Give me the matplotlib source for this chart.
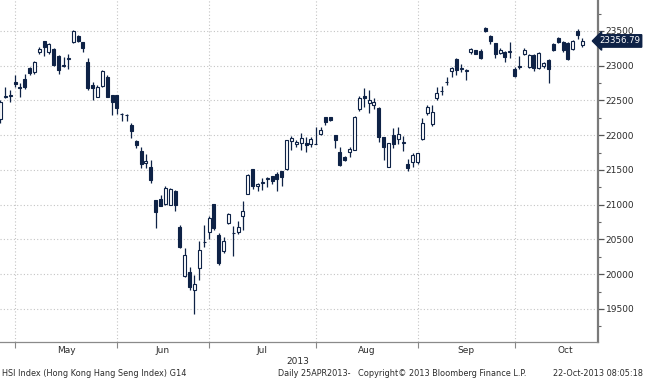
import matplotlib
matplotlib.use('Agg')
import matplotlib.pyplot as plt
import matplotlib.transforms as mtransforms
import numpy as np
import pandas as pd

# ---------------- data (HSI daily OHLC) ----------------
opens = [22230, 22550, 22565,
         22759, 22698, 22816, 22967, 22910, 23203, 23358, 23193, 23240, 23146, 23000, 23095,
         23344, 23430, 23335, 23061, 22721, 22556, 22707, 22840, 22580,
         22580, 22300, 22290, 22154, 21914, 21779, 21597, 21544, 21064, 21083, 21011, 21000,
         21194, 20675, 19970, 20032, 19778, 20090, 20459,
         20608, 21011, 20570, 20330, 20738, 20590, 20603, 20834, 21160, 21515, 21272, 21320,
         21370, 21418, 21442, 21490, 21515, 21912, 21869, 21888, 21888, 21869,
         21873, 22024, 22257, 22267, 22000, 21757, 21694, 21757, 21791, 22371, 22562, 22467,
         22433, 22385, 21969, 21548, 22002, 21940, 21888, 21586, 21620,
         21620, 21940, 22313, 22160, 22529, 22634, 22764, 22921, 23093, 22959, 22925, 23199,
         23232, 23210, 23548, 23429, 23329, 23190, 23200, 23195,
         22953, 22983, 23176, 22986, 23152, 22962, 23000, 23081, 23319, 23400, 23343, 23333,
         23248, 23495, 23305]
highs = [22500, 22698, 22650,
         22863, 22745, 22885, 22980, 23062, 23264, 23358, 23330, 23250, 23150, 23122, 23170,
         23510, 23440, 23335, 23113, 22770, 22730, 22943, 22873, 22580,
         22580, 22320, 22310, 22178, 21938, 21827, 21731, 21650, 21070, 21146, 21275, 21240,
         21218, 20704, 20378, 20104, 19994, 20474, 20714,
         20834, 21011, 20594, 20531, 20880, 20690, 20762, 21050, 21442, 21515, 21320, 21384,
         21393, 21418, 21466, 21490, 21927, 21985, 21937, 22034, 21975, 21975,
         22121, 22112, 22267, 22267, 22000, 21830, 21708, 21830, 22277, 22562, 22682, 22658,
         22529, 22400, 21969, 21892, 22098, 22112, 21988, 21653, 21739,
         21749, 22242, 22433, 22433, 22696, 22706, 22840, 22983, 23112, 23031, 22959, 23251,
         23232, 23248, 23557, 23438, 23329, 23257, 23210, 23343,
         22986, 23138, 23257, 23176, 23162, 23200, 23057, 23090, 23333, 23414, 23352, 23343,
         23367, 23524, 23400]
lows = [22180, 22542, 22485,
        22698, 22556, 22670, 22870, 22886, 23170, 23146, 23170, 22990, 22887, 22980, 22955,
        23330, 23344, 23193, 22650, 22500, 22556, 22698, 22556, 22296,
        22310, 22200, 22200, 21962, 21818, 21530, 21530, 21314, 20666, 20978, 21000, 20990,
        20906, 20378, 19955, 19778, 19427, 19922, 20387,
        20512, 20642, 20138, 20306, 20723, 20258, 20579, 20642, 21150, 21224, 21200, 21209,
        21250, 21296, 21200, 21272, 21500, 21782, 21830, 21782, 21757, 21830,
        21869, 22000, 22145, 22200, 21820, 21563, 21630, 21685, 21782, 22352, 22400, 22313,
        22371, 21907, 21643, 21538, 21811, 21873, 21777, 21490, 21548,
        21586, 21930, 22290, 22132, 22505, 22577, 22720, 22840, 22864, 22911, 22792, 23175,
        23165, 23095, 23486, 23319, 23105, 23162, 23057, 23105,
        22843, 22950, 23152, 22962, 22924, 22948, 22972, 22748, 23210, 23333, 23200, 23081,
        23224, 23381, 23271]
closes = [22480, 22560, 22575,
          22731, 22684, 22688, 22900, 23052, 23240, 23264, 23311, 23004, 22934, 23010, 23105,
          23500, 23358, 23250, 22674, 22674, 22698, 22924, 22556, 22485,
          22390, 22310, 22298, 22067, 21856, 21587, 21626, 21362, 20896, 20978, 21242, 21227,
          20992, 20387, 20272, 19811, 19859, 20354, 20464,
          20810, 20666, 20162, 20474, 20867, 20600, 20680, 20915, 21432, 21272, 21296, 21330,
          21375, 21345, 21370, 21403, 21927, 21961, 21903, 21961, 21854, 21950,
          21878, 22082, 22194, 22218, 21927, 21578, 21646, 21805, 22267, 22543, 22533, 22514,
          22481, 21969, 21825, 21892, 21873, 22012, 21893, 21524, 21715,
          21739, 22180, 22400, 22337, 22610, 22639, 22768, 22969, 22935, 22964, 22930, 23237,
          23175, 23105, 23495, 23357, 23176, 23224, 23129, 23205,
          22857, 22990, 23233, 23152, 22972, 23186, 23033, 22953, 23224, 23343, 23233, 23095,
          23352, 23438, 23356.79]

holidays = ['2013-05-01', '2013-05-17', '2013-06-12', '2013-07-01',
            '2013-08-14', '2013-09-20', '2013-10-01']
dates = pd.bdate_range('2013-04-26', '2013-10-22')
dates = dates[~dates.isin(pd.to_datetime(holidays))]

month_labels = ['May', 'Jun', 'Jul', 'Aug', 'Sep', 'Oct']
y_ticks = [19500, 20000, 20500, 21000, 21500, 22000, 22500, 23000, 23500]

# ---------------- figure ----------------
NAVY = '#0e2246'
GRID = '#c4c4c4'
TXT = '#2b2b2b'

fig = plt.figure(figsize=(6.45, 3.80), dpi=100)
fig.patch.set_facecolor('white')
ax = fig.add_axes([0.0, 1 - 342 / 380, 598 / 645, 342 / 380])
ax.set_facecolor('white')

o = np.array(opens, float)
h = np.array(highs, float)
l = np.array(lows, float)
c = np.array(closes, float)
idx = np.arange(len(c))
up = c >= o

# wicks
ax.vlines(idx, l, h, color=NAVY, lw=0.9, zorder=2)
# bodies
bottom = np.minimum(o, c)
height = np.maximum(np.abs(c - o), 8)
ax.bar(idx[up], height[up], bottom=bottom[up], width=0.62,
       color='white', edgecolor=NAVY, linewidth=0.8, zorder=3)
ax.bar(idx[~up], height[~up], bottom=bottom[~up], width=0.62,
       color=NAVY, edgecolor=NAVY, linewidth=0.8, zorder=3)

# axes ranges
ax.set_xlim(-0.1, 123.2)
ax.set_ylim(19025, 23946)

# month starts from dates
months = np.array([d.month for d in dates])
starts = [i for i in range(1, len(months)) if months[i] != months[i - 1]]
mids = [(starts[i] + starts[i + 1]) / 2 for i in range(len(starts) - 1)]
mids.append(starts[-1] + 10.5)

ax.set_xticks(starts)
ax.set_xticklabels([])
ax.set_xticks(mids, minor=True)
ax.set_xticklabels(month_labels, minor=True)
ax.tick_params(axis='x', which='major', length=4, width=0.8, color='#888888', direction='out')
ax.tick_params(axis='x', which='minor', length=0, pad=3, labelsize=6.5, labelcolor=TXT)

ax.yaxis.tick_right()
ax.set_yticks(y_ticks)
ax.set_yticklabels([str(v) for v in y_ticks])
ax.set_yticks(np.arange(19250, 23800, 250), minor=True)
ax.tick_params(axis='y', which='major', length=4, width=0.9, color='#555555',
               direction='out', pad=1.5, labelsize=6.5, labelcolor=TXT)
ax.tick_params(axis='y', which='minor', length=2, width=0.8, color='#666666', direction='out')

# grid
for v in y_ticks:
    ax.axhline(v, color=GRID, lw=0.8, ls=(0, (1, 2)), zorder=0)
for s in starts:
    ax.axvline(s, color=GRID, lw=0.8, ls=(0, (1, 2)), zorder=0)

for side in ['top', 'left']:
    ax.spines[side].set_visible(False)
ax.spines['right'].set_color('#7a7a7a')
ax.spines['right'].set_linewidth(1.6)
ax.spines['bottom'].set_color('#8a8a8a')
ax.spines['bottom'].set_linewidth(0.9)

# last price label
trans = mtransforms.blended_transform_factory(ax.transAxes, ax.transData)
ax.text(1.0 + 1 / 598, c[-1], f'{c[-1]:.2f}', transform=trans, ha='left', va='center',
        color='white', fontsize=6.2, clip_on=False, zorder=10,
        bbox=dict(boxstyle='larrow,pad=0.2', fc=NAVY, ec=NAVY))

# footer texts
fig.text(298 / 645, 1 - 362 / 380, '2013', ha='center', va='center', fontsize=6.5, color=TXT)
fy = 1 - 374 / 380
FS = 5.9
fig.text(2 / 645, fy, 'HSI Index (Hong Kong Hang Seng Index) G14', ha='left', va='center',
         fontsize=FS, color=TXT)
fig.text(278 / 645, fy, 'Daily 25APR2013-', ha='left', va='center', fontsize=FS, color=TXT)
fig.text(358 / 645, fy, 'Copyright\u00a9 2013 Bloomberg Finance L.P.', ha='left', va='center',
         fontsize=FS, color=TXT)
fig.text(643 / 645, fy, '22-Oct-2013 08:05:18', ha='right', va='center', fontsize=FS, color=TXT)

fig.savefig('out.png', dpi=100, facecolor='white')
